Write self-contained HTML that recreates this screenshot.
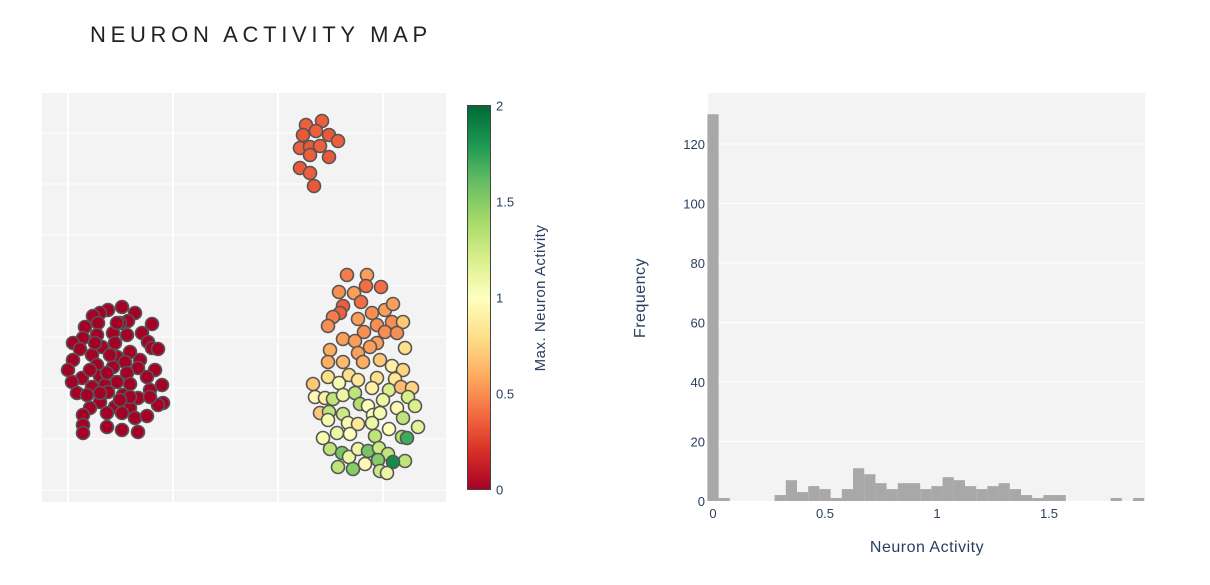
<!DOCTYPE html>
<html><head><meta charset="utf-8">
<style>
body{margin:0;background:#fff;width:1210px;height:580px;overflow:hidden;font-family:"Liberation Sans",sans-serif;}
svg text{font-family:"Liberation Sans",sans-serif;}
</style></head>
<body>
<svg id="root" width="1210" height="580">
<text x="90" y="42" font-size="22" letter-spacing="4.7" fill="#222">NEURON ACTIVITY MAP</text>
<g id="scatter"></g>
<g id="cbar"></g>
<g id="hist"></g>
</svg>
<script>
// scatter data (embedding coordinates, activity values)
const redX=[54,40,32,25,67,60,52,30,17,84,45,59,29,74,15,5,80,12,34,47,62,84,90,24,49,72,5,29,45,57,87,0,70,32,14,59,79,4,49,62,94,24,37,82,9,19,40,55,70,95,90,32,47,22,82,62,15,39,54,67,79,15,39,54,70,15,27,42,22,39,62,52,32,49];
const redY=[183,180,177,174,177,169,167,167,163,166,157,155,155,157,152,147,148,141,143,147,138,142,141,135,133,130,130,125,123,128,120,120,122,114,112,117,113,108,108,106,105,103,105,100,97,95,98,95,92,87,85,88,83,82,93,82,75,77,77,72,74,65,63,60,58,57,147,135,120,117,93,90,97,167];
const topX=[238,254,235,248,261,270,232,242,252,242,261,232,242,246];
const topY=[365,369,355,359,355,349,342,343,344,335,333,322,317,304];
const topV=[0.35,0.35,0.33,0.35,0.33,0.35,0.35,0.33,0.35,0.35,0.33,0.33,0.35,0.33];
const bigX=[279,299,298,313,271,286,293,275,272,265,260,290,304,317,325,309,324,335,296,317,329,275,287,309,302,337,262,290,260,275,295,312,324,335,260,281,290,309,327,245,271,304,321,333,344,247,257,265,275,287,340,292,300,315,329,347,252,261,275,305,312,335,260,280,290,304,350,269,282,255,307,321,334,339,262,274,281,290,300,311,320,310,337,325,270,285,297,312,319];
const bigY=[215,215,204,203,198,197,188,184,177,173,164,171,177,180,186,165,168,168,158,158,157,151,149,147,143,142,140,137,128,128,128,130,124,120,113,115,110,112,111,106,107,102,100,103,102,93,92,91,95,97,93,86,84,90,82,84,77,78,76,75,77,72,70,67,66,67,63,57,56,52,54,61,53,52,41,37,33,41,39,42,36,30,29,28,23,21,26,19,17];
const bigV=[0.45,0.55,0.4,0.4,0.5,0.55,0.4,0.35,0.35,0.45,0.5,0.55,0.5,0.55,0.55,0.5,0.5,0.7,0.5,0.5,0.5,0.55,0.55,0.55,0.55,0.8,0.6,0.55,0.6,0.65,0.6,0.7,0.9,0.75,0.8,0.8,0.85,0.8,0.85,0.7,1.05,0.9,1.2,0.65,0.75,0.95,0.9,1.3,1.1,1.3,1.2,1.35,1.0,1.1,0.95,1.2,0.7,1.3,1.25,1.0,1.05,1.3,1.05,1.05,0.85,1.1,1.15,1.1,1.0,1.05,1.3,1.0,1.35,1.7,1.3,1.55,1.1,1.1,1.55,1.25,1.3,1.5,1.3,1.85,1.3,1.5,0.95,1.25,1.1];
// histogram data
const binCenters=[0,0.05,0.1,0.15,0.2,0.25,0.3,0.35,0.4,0.45,0.5,0.55,0.6,0.65,0.7,0.75,0.8,0.85,0.9,0.95,1.0,1.05,1.1,1.15,1.2,1.25,1.3,1.35,1.4,1.45,1.5,1.55,1.6,1.65,1.7,1.75,1.8,1.85,1.9];
const binCounts=[130,1,0,0,0,0,2,7,3,5,4,1,4,11,9,6,4,6,6,4,5,8,7,5,4,5,6,4,2,1,2,2,0,0,0,0,1,0,1];
const yTicks=[0,20,40,60,80,100,120];
const xTicks=[0,0.5,1,1.5];
const xTickLabels=["0","0.5","1","1.5"];
const cbTicks=[0,0.5,1,1.5,2];
const cbTickLabels=["0","0.5","1","1.5","2"];

const NS="http://www.w3.org/2000/svg";
function mk(tag,attrs,parent){const e=document.createElementNS(NS,tag);for(const k in attrs)e.setAttribute(k,attrs[k]);parent.appendChild(e);return e;}
const stops=[[0,[165,0,38]],[0.1,[215,48,39]],[0.2,[244,109,67]],[0.3,[253,174,97]],[0.4,[254,224,139]],[0.5,[255,255,191]],[0.6,[217,239,139]],[0.7,[166,217,106]],[0.8,[102,189,99]],[0.9,[26,152,80]],[1,[0,104,55]]];
function color(v){let t=Math.max(0,Math.min(1,v/2));for(let i=1;i<stops.length;i++){if(t<=stops[i][0]){const a=stops[i-1],b=stops[i];const f=(t-a[0])/(b[0]-a[0]);const c=a[1].map((x,j)=>Math.round(x+(b[1][j]-x)*f));return `rgb(${c})`;}}return 'rgb(0,104,55)';}

// scatter axes
const sc=document.getElementById('scatter');
const SX=v=>68+v, SY=v=>490-v;
mk('rect',{x:42,y:93,width:404,height:409,fill:'#f3f3f3'},sc);
[0,105,210,315].forEach(g=>{const l=mk('line',{x1:SX(g),x2:SX(g),y1:93,y2:502,stroke:'#fff','stroke-width':2},sc);

});
[0,51,102,153,204,255,306,357].forEach(g=>{const l=mk('line',{x1:42,x2:446,y1:SY(g),y2:SY(g),stroke:'#fff','stroke-width':1},sc);

});
function pts(xs,ys,vs,name){xs.forEach((x,i)=>{const c=mk('circle',{cx:SX(x),cy:SY(ys[i]),r:6.5,fill:color(vs===null?0:vs[i]),stroke:'#555','stroke-width':1.6},sc);

});}
pts(redX,redY,null,'inactive-neuron-point');
pts(topX,topY,topV,'low-activity-neuron-point');
pts(bigX,bigY,bigV,'active-neuron-point');

// colorbar
const cb=document.getElementById('cbar');
const defs=mk('defs',{},cb);const gr=mk('linearGradient',{id:'rg',x1:0,y1:1,x2:0,y2:0},defs);
stops.forEach(s=>mk('stop',{offset:s[0],'stop-color':`rgb(${s[1]})`},gr));
mk('rect',{x:467.5,y:105.5,width:23,height:384,fill:'url(#rg)',stroke:'#444','stroke-width':1},cb);
cbTicks.forEach((t,i)=>{const y=489.5-t/2*384;const tx=mk('text',{x:496,y:y+5,'font-size':13,fill:'#2a3f5f'},cb);tx.textContent=cbTickLabels[i];

});
const ct=mk('text',{x:545,y:298,'font-size':15,fill:'#2a3f5f','text-anchor':'middle',transform:'rotate(-90 545 298)','letter-spacing':'0.5'},cb);
ct.textContent='Max. Neuron Activity';



// histogram
const h=document.getElementById('hist');
const HX=v=>713+v*224, HY=v=>501-v*2.975;
mk('rect',{x:708,y:93,width:437,height:408,fill:'#f3f3f3'},h);
yTicks.forEach(t=>{if(t>0){const l=mk('line',{x1:708,x2:1145,y1:HY(t),y2:HY(t),stroke:'#fff','stroke-width':1},h);

}
const tx=mk('text',{x:705,y:HY(t)+5,'font-size':13,fill:'#2a3f5f','text-anchor':'end'},h);tx.textContent=String(t);

});
binCenters.forEach((c,i)=>{if(binCounts[i]<=0)return;const x0=HX(c-0.025),x1=Math.min(HX(c+0.025),1145);
const r=mk('rect',{x:x0,y:HY(binCounts[i]),width:x1-x0,height:binCounts[i]*2.975,fill:'#a8a8a8'},h);

});
xTicks.forEach((t,i)=>{const tx=mk('text',{x:HX(t),y:518,'font-size':13,fill:'#2a3f5f','text-anchor':'middle'},h);tx.textContent=xTickLabels[i];

});
const xt=mk('text',{x:927,y:552,'font-size':16,fill:'#2a3f5f','text-anchor':'middle','letter-spacing':'0.5'},h);xt.textContent='Neuron Activity';


const yt=mk('text',{x:645,y:298,'font-size':16,fill:'#2a3f5f','text-anchor':'middle',transform:'rotate(-90 645 298)','letter-spacing':'0.5'},h);yt.textContent='Frequency';


</script>
</body></html>
